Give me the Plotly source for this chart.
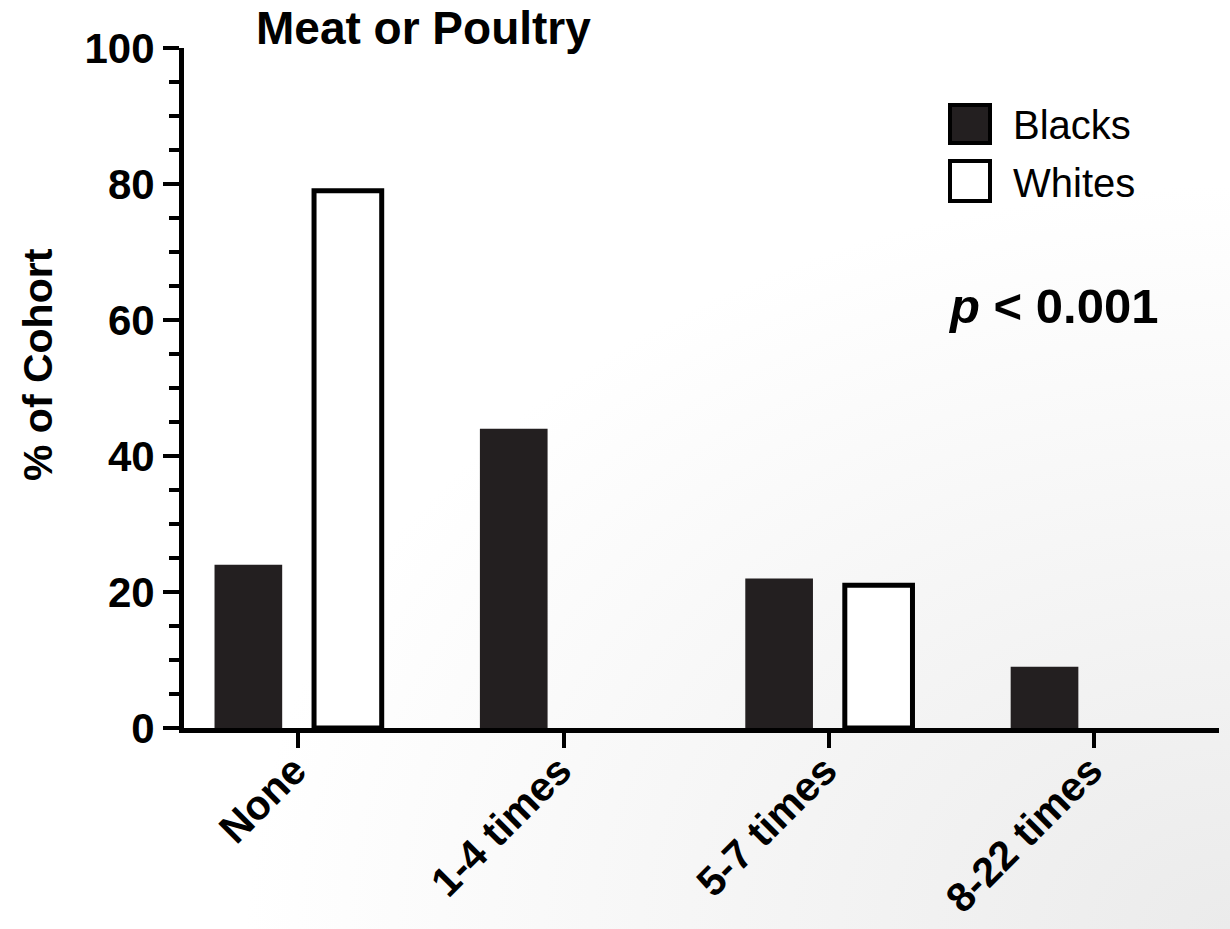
import base64
import plotly.graph_objects as go

categories = ["None", "1-4 times", "5-7 times", "8-22 times"]
blacks = [24, 44, 22, 9]
whites = [79, 0, 21, 0]
y_ticks = [0, 20, 40, 60, 80, 100]

FONT = "Liberation Sans, Arial, Helvetica, sans-serif"
W, H = 1230, 929
ML, MR, MT, MB = 184, 11, 48, 201
PW, PH = W - ML - MR, H - MT - MB

def px(x):
    return (x - ML) / PW

def py(y):
    return (H - MB - y) / PH

fig = go.Figure()
fig.add_trace(go.Bar(x=categories, y=blacks, name="Blacks",
                     marker=dict(color="#231f20", line=dict(width=0)),
                     showlegend=False))
fig.add_trace(go.Bar(x=categories, y=whites, name="Whites",
                     marker=dict(color="white",
                                 line=dict(color="black",
                                           width=[5 if v > 0 else 0 for v in whites])),
                     showlegend=False))

svg = ('<svg xmlns="http://www.w3.org/2000/svg" width="1230" height="929">'
       '<defs><radialGradient id="g" cx="1" cy="1" r="0.8">'
       '<stop offset="0" stop-color="#ebebeb"/><stop offset="1" stop-color="#ffffff"/>'
       '</radialGradient></defs><rect width="1230" height="929" fill="url(#g)"/></svg>')
src = "data:image/svg+xml;base64," + base64.b64encode(svg.encode()).decode()

shapes = [
    dict(type="rect", xref="paper", yref="paper",
         x0=px(950), x1=px(990), y0=py(143), y1=py(105),
         fillcolor="#231f20", line=dict(color="black", width=4)),
    dict(type="rect", xref="paper", yref="paper",
         x0=px(950), x1=px(990), y0=py(201), y1=py(161),
         fillcolor="white", line=dict(color="black", width=4)),
]

annotations = [
    dict(text="<b>Meat or Poultry</b>", xref="paper", yref="paper",
         x=px(254), y=py(28), xanchor="left", yanchor="middle", showarrow=False,
         font=dict(family=FONT, size=46, color="black")),
    dict(text="<b>% of Cohort</b>", xref="paper", yref="paper",
         x=px(38), y=py(365), xanchor="center", yanchor="middle", showarrow=False,
         textangle=-90, font=dict(family=FONT, size=41, color="black")),
    dict(text="Blacks", xref="paper", yref="paper",
         x=px(1011), y=py(125), xanchor="left", yanchor="middle", showarrow=False,
         font=dict(family=FONT, size=40, color="black")),
    dict(text="Whites", xref="paper", yref="paper",
         x=px(1011), y=py(183), xanchor="left", yanchor="middle", showarrow=False,
         font=dict(family=FONT, size=40, color="black")),
    dict(text="<b><i>p</i> &lt; 0.001</b>", xref="paper", yref="paper",
         x=px(946), y=py(306), xanchor="left", yanchor="middle", showarrow=False,
         font=dict(family=FONT, size=49, color="black")),
]

fig.update_layout(
    width=W, height=H,
    margin=dict(l=ML, r=MR, t=MT, b=MB, autoexpand=False),
    paper_bgcolor="white", plot_bgcolor="rgba(0,0,0,0)",
    barmode="group", bargap=0.25, bargroupgap=0.32,
    font=dict(family=FONT, color="black"),
    shapes=shapes, annotations=annotations,
    images=[dict(source=src, xref="paper", yref="paper",
                 x=-ML / PW, y=1 + MT / PH, sizex=W / PW, sizey=H / PH,
                 xanchor="left", yanchor="top", sizing="stretch", layer="below")],
    xaxis=dict(range=[-0.43, 3.47], showgrid=False, zeroline=False,
               showline=True, linecolor="black", linewidth=5,
               ticks="outside", ticklen=15, tickwidth=4, tickcolor="black",
               tickangle=-45, ticklabelstandoff=-18, ticklabelshift=-4,
               tickfont=dict(family=FONT, size=41, color="black", weight="bold")),
    yaxis=dict(range=[0, 100], tickvals=y_ticks, showgrid=False, zeroline=False,
               showline=True, linecolor="black", linewidth=5,
               ticks="outside", ticklen=16, tickwidth=4, tickcolor="black",
               minor=dict(dtick=5, ticks="outside", ticklen=10, tickwidth=4,
                          tickcolor="black", showgrid=False),
               tickfont=dict(family=FONT, size=42, color="black", weight="bold")),
)

fig.write_html("out.html", config={"displayModeBar": False},
               post_script="document.body.style.margin='0';")
